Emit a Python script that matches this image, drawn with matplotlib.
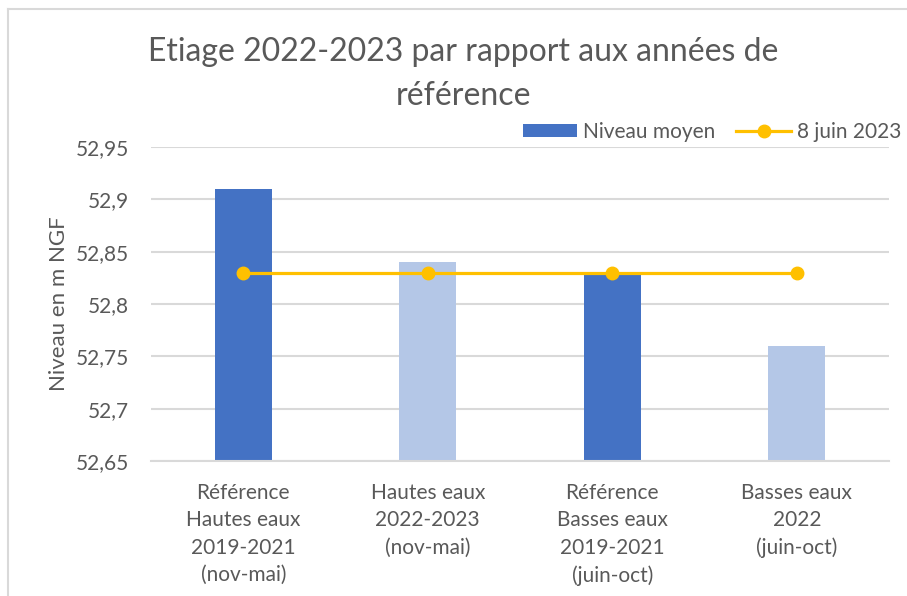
import matplotlib
matplotlib.use("Agg")
import matplotlib.pyplot as plt
from matplotlib.lines import Line2D
from matplotlib.patches import Patch
import numpy as np

categories = ["Référence\nHautes eaux\n2019-2021\n(nov-mai)",
              "Hautes eaux\n2022-2023\n(nov-mai)",
              "Référence\nBasses eaux\n2019-2021\n(juin-oct)",
              "Basses eaux\n2022\n(juin-oct)"]
niveau_moyen = [52.91, 52.84, 52.83, 52.76]
juin_2023 = [52.83, 52.83, 52.83, 52.83]
bar_colors = ["#4472C4", "#B4C7E7", "#4472C4", "#B4C7E7"]
yticks = [52.65, 52.7, 52.75, 52.8, 52.85, 52.9, 52.95]
ytick_labels = ["52,65", "52,7", "52,75", "52,8", "52,85", "52,9", "52,95"]

plt.rcParams['font.family'] = ['Lato', 'DejaVu Sans']
txt = "#595959"

fig = plt.figure(figsize=(9.07, 5.96), dpi=100)
ax = fig.add_axes([151/907, 1-461/596, (889-151)/907, (461-147)/596])

x = np.arange(len(categories))
ax.bar(x, [v - 52.65 for v in niveau_moyen], bottom=52.65, width=0.31,
       color=bar_colors, zorder=2, label="Niveau moyen")
ax.plot(x, juin_2023, color="#FFC000", lw=2.3, marker="o", ms=9, zorder=3,
        label="8 juin 2023")

ax.set_xlim(-0.5, 3.5)
ax.set_ylim(52.65, 52.95)
ax.set_yticks(yticks)
ax.set_yticklabels(ytick_labels)
ax.set_xticks(x)
ax.set_xticklabels(categories, linespacing=1.45)
ax.tick_params(axis='both', length=0, labelsize=15, colors=txt)
ax.tick_params(axis='x', pad=16)
ax.tick_params(axis='y', pad=16)
ax.grid(axis='y', color="#D9D9D9", lw=1.5, zorder=0)
for s in ["top", "right", "left"]:
    ax.spines[s].set_visible(False)
ax.spines["bottom"].set_color("#D9D9D9")
ax.spines["bottom"].set_linewidth(1.5)
ax.set_axisbelow(True)

ax.set_ylabel("Niveau en m NGF", fontsize=16, color=txt, labelpad=5)

fig.text(463/907, 1-52/596, "Etiage 2022-2023 par rapport aux années de",
         ha="center", va="center", fontsize=23, color=txt)
fig.text(463/907, 1-96/596, "référence",
         ha="center", va="center", fontsize=23, color=txt)

handles = [Patch(facecolor="#4472C4", label="Niveau moyen"),
           Line2D([0], [0], color="#FFC000", lw=2.3, marker="o", ms=9, label="8 juin 2023")]
fig.legend(handles=handles, loc="center right", bbox_to_anchor=(920/907, 1-132/596),
           ncol=2, frameon=False, fontsize=15, labelcolor=txt,
           handlelength=2.6, handleheight=0.55, handletextpad=0.3, columnspacing=1.0)

fig.add_artist(Line2D([8/907, 8/907], [0, 1-9/596], transform=fig.transFigure,
                      color="#D9D9D9", lw=1.5))
fig.add_artist(Line2D([8/907, 1], [1-9/596, 1-9/596], transform=fig.transFigure,
                      color="#D9D9D9", lw=1.5))

fig.savefig("out.png", dpi=100, facecolor="white")
